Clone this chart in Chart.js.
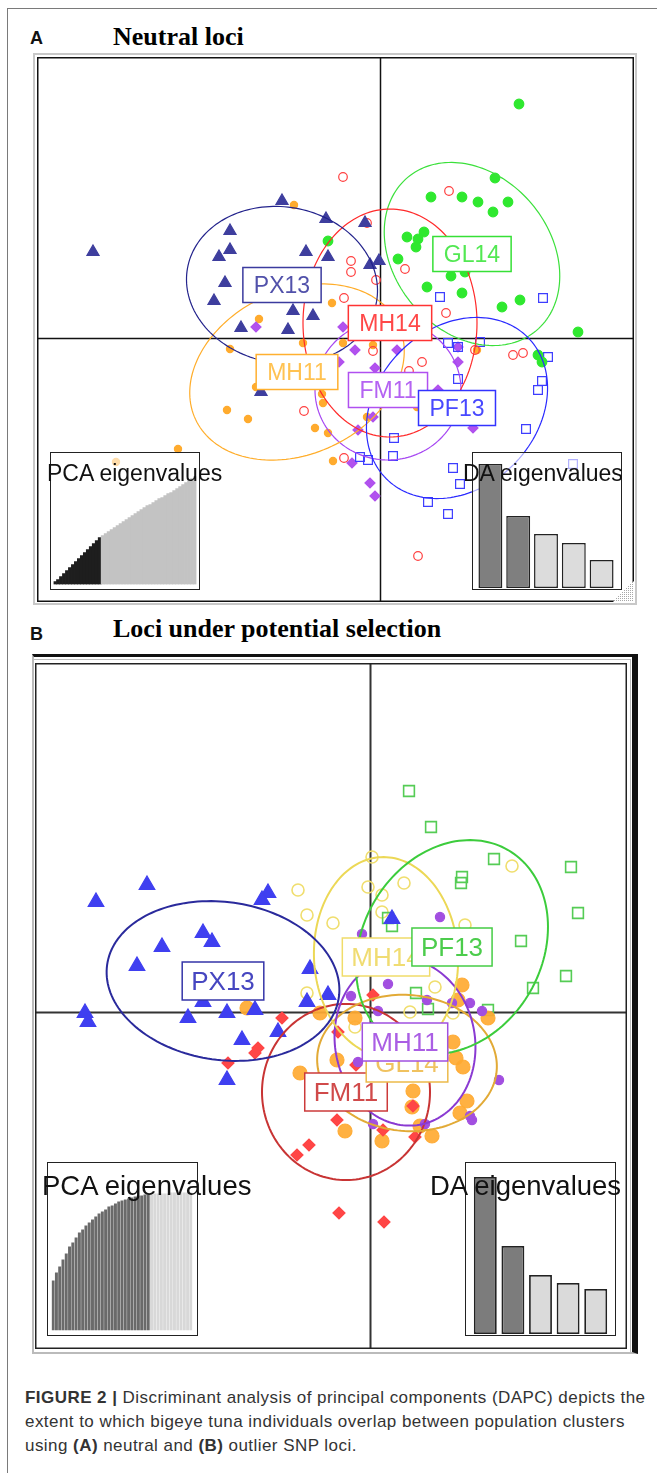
<!DOCTYPE html>
<html>
<head>
<meta charset="utf-8">
<script src="https://cdn.jsdelivr.net/npm/chart.js@4.4.1/dist/chart.umd.min.js"></script>
<style>
body{margin:0;background:#fff;width:657px;height:1473px;position:relative;overflow:hidden;font-family:"Liberation Sans",Arial,sans-serif;}
.abs{position:absolute;}
#frame{left:7px;top:8px;width:670px;height:1480px;border-left:1px solid #7a7a7a;border-top:1px solid #7a7a7a;}
.letter{font-weight:bold;font-size:18px;line-height:1;color:#111;}
.title{font-family:"Liberation Serif","Times New Roman",serif;font-weight:bold;font-size:26px;line-height:1;color:#000;white-space:nowrap;}
.inset{border:1.5px solid #222;background:rgba(255,255,255,0.6);box-sizing:border-box;}
.inset canvas{position:absolute;left:0;top:0;}
.itxt{white-space:nowrap;color:#111;line-height:1;}
#caption{left:25px;top:1386px;font-size:17px;letter-spacing:0.45px;line-height:24px;color:#333;white-space:nowrap;}
</style>
</head>
<body>
<div id="frame" class="abs"></div>

<div class="abs letter" style="left:30px;top:29px;">A</div>
<div class="abs title" style="left:113px;top:24px;">Neutral loci</div>
<div class="abs" style="left:33px;top:53px;width:604px;height:552px;border:2px solid #c8c8c8;box-sizing:border-box;"></div>
<canvas id="dapcA" class="abs" style="left:37px;top:57px;" width="597" height="545"></canvas>
<div class="abs inset" style="left:50px;top:452px;width:150px;height:138px;"><canvas id="pcaA" width="147" height="135"></canvas></div>
<div class="abs inset" style="left:472px;top:452px;width:150px;height:138px;"><canvas id="daA" width="147" height="135"></canvas></div>
<div class="abs itxt" style="left:47px;top:462px;font-size:23px;">PCA eigenvalues</div>
<div class="abs itxt" style="left:463px;top:462px;font-size:23px;">DA eigenvalues</div>

<div class="abs letter" style="left:30px;top:625px;">B</div>
<div class="abs title" style="left:113px;top:616px;">Loci under potential selection</div>
<div class="abs" style="left:32px;top:654px;width:606px;height:700px;border-top:3px solid #111;border-right:6px solid #111;border-left:2px solid #bbb;border-bottom:2px solid #bbb;box-sizing:border-box;"></div>
<div class="abs" style="left:33px;top:659px;width:598px;height:694px;border:1.5px solid #bbb;box-sizing:border-box;"></div>
<canvas id="dapcB" class="abs" style="left:35px;top:663px;" width="592" height="686"></canvas>
<div class="abs inset" style="left:47px;top:1162px;width:151px;height:174px;"><canvas id="pcaB" width="148" height="171"></canvas></div>
<div class="abs inset" style="left:465px;top:1162px;width:151px;height:174px;"><canvas id="daB" width="148" height="171"></canvas></div>
<div class="abs itxt" style="left:42px;top:1172px;font-size:27.5px;">PCA eigenvalues</div>
<div class="abs itxt" style="left:430px;top:1172px;font-size:27.5px;">DA eigenvalues</div>

<div id="caption" class="abs"><b>FIGURE 2 |</b> Discriminant analysis of principal components (DAPC) depicts the<br>extent to which bigeye tuna individuals overlap between population clusters<br>using <b>(A)</b> neutral and <b>(B)</b> outlier SNP loci.</div>

<script>
// ---------- panel A : neutral loci (discriminant scores, LD1 / LD2) ----------
const groupsA = ['FM11', 'GL14', 'MH11', 'MH14', 'PF13', 'PX13'];

const px13A = [[-28.7,8.6],[-9.8,13.7],[-5.4,11.9],[-15.0,10.7],[-15.0,8.8],[-16.1,8.1],[-7.4,8.6],[-5.2,8.1],
  [-1.5,11.5],[-1.0,7.3],[-0.1,7.7],[-15.5,5.5],[-16.6,3.7],[-8.7,2.7],[-6.7,2.2],[-13.9,1.0],[-9.2,0.8],[-11.9,-5.4]];
const mh14A = [[-3.7,16.1],[6.9,14.7],[-1.3,11.5],[-2.9,7.7],[-2.9,6.6],[-0.4,5.8],[2.5,6.9],[-3.6,4.0],[6.6,2.5],
  [-0.7,-1.3],[4.2,-2.4],[2.9,-3.3],[9.5,-1.2],[13.3,-1.7],[14.3,-1.5],[-7.6,-7.3],[-3.6,-12.0],[3.8,-21.8]];
const gl14A = [[13.9,23.4],[11.5,16.0],[5.1,14.1],[8.2,14.1],[9.8,13.6],[12.8,13.6],[11.3,12.6],[2.7,10.1],[4.4,10.6],
  [3.8,9.9],[3.6,9.1],[1.8,7.9],[7.1,6.2],[8.5,6.6],[4.7,5.1],[8.2,4.5],[12.2,3.1],[14.0,3.8],[-5.2,9.7],[19.8,0.6],
  [15.8,-1.7],[16.2,-2.4]];
const pf13A = [[6.0,4.1],[16.3,4.0],[6.8,-0.5],[7.8,-0.9],[10.0,-0.4],[16.8,-1.9],[16.2,-4.3],[15.8,-5.2],[7.8,-4.1],
  [14.6,-9.1],[1.4,-10.0],[1.3,-11.8],[-2.0,-11.9],[-1.2,-12.2],[7.3,-13.0],[8.0,-14.6],[4.8,-16.4],[6.8,-17.6],[19.3,-12.6]];
const fm11A = [[-12.4,1.1],[-3.7,1.1],[-2.5,-1.2],[-4.1,-2.4],[1.7,-1.2],[7.8,-0.9],[7.8,-2.4],[-0.5,-3.0],[5.8,-5.2],
  [-0.7,-7.9],[-2.2,-9.2],[9.3,-9.0],[-2.8,-12.5],[-1.0,-14.5],[-0.5,-15.8]];
const mh11A = [[-8.6,13.3],[-4.8,3.5],[-12.1,1.9],[-7.7,-0.5],[-3.7,-0.5],[-0.7,-0.7],[-15.0,-1.1],[-12.4,-4.9],
  [-5.8,-5.6],[-5.7,-6.5],[-15.3,-7.2],[-13.2,-8.1],[-6.5,-9.0],[-5.2,-9.5],[-4.7,-12.3],[-20.2,-11.1],[-26.4,-12.4],
  [-1.3,-7.9],[3.7,-6.9],[9.7,-1.2]];

// inertia ellipses, in group order: centre, then [axis1, axis2, rotation deg]
const centersA = [[0.8,-5.2],[9.2,8.4],[-8.3,-3.4],[1.0,1.5],[7.7,-7.0],[-9.8,5.3]];
const axesA = [[7.3,7.0,0],[10.0,7.8,-50],[11.2,8.2,25],[8.7,11.4,0],[10.0,8.0,45],[9.6,7.8,-10]];

const pcaA = [3,5,8,11,14,17,20,23,26,29,32,35,38,41,44,47,49,51,53,55,57,59,61,63,65,67,69,71,73,75,77,79,80,82,84,
  86,87,89,91,92,94,96,98,100,102,104,106,108];
const pcaRetainedA = 16;
const daA = [124,72,54,45,28];
const daRetainedA = 2;

// ---------- panel B : loci under potential selection ----------
const groupsB = ['FM11', 'GL14', 'MH11', 'MH14', 'PF13', 'PX13'];

const px13B = [[-27.4,11.0],[-22.3,12.7],[-10.2,11.9],[-10.8,11.2],[-16.7,7.9],[-15.8,7.0],[-20.8,6.5],[-23.3,4.6],
  [-6.0,4.3],[-28.5,-0.1],[-28.2,-1.0],[-18.2,-0.6],[-14.3,-0.1],[-16.7,1.0],[-12.8,-2.8],[-9.2,-2.0],[-14.3,-6.8],
  [-11.5,0.2],[-6.3,1.0],[-4.2,1.7],[2.2,9.3]];
const mh14B = [[-7.2,12.2],[-6.3,9.7],[-3.7,8.9],[-6.3,1.9],[0.2,15.5],[-0.2,12.5],[1.2,11.7],[3.4,12.9],[1.2,10.0],
  [14.2,14.6],[9.5,8.7],[6.5,2.5],[-1.5,-1.5],[4.0,0.0],[8.3,-0.1]];
const pf13B = [[3.9,22.1],[6.1,18.5],[12.4,15.3],[9.2,13.5],[9.1,12.9],[20.1,14.5],[20.8,9.9],[15.1,7.1],[19.6,3.6],
  [16.3,2.4],[1.8,9.4],[2.2,8.6],[4.6,1.9],[5.8,0.3],[11.8,0.2]];
const mh11B = [[7.0,9.5],[-0.8,7.8],[1.8,2.8],[-1.9,1.6],[0.8,0.1],[5.7,1.2],[8.2,0.9],[10.0,0.9],[11.2,0.1],[-1.2,-5.0],
  [12.9,-6.8],[10.2,-10.8],[10.0,-10.4],[5.5,-11.2],[0.3,-11.2]];
const gl14B = [[-12.3,0.4],[-5.0,-0.1],[-1.5,-0.6],[9.2,2.7],[8.8,1.2],[11.8,-0.6],[8.3,-3.0],[8.6,-4.6],[9.3,-5.5],
  [-3.3,-4.8],[-7.0,-6.1],[4.3,-7.9],[4.2,-9.5],[9.7,-8.9],[9.0,-10.1],[-2.5,-11.9],[5.0,-11.4],[1.2,-12.9],[6.2,-12.4]];
const fm11B = [[-8.8,-0.6],[-11.2,-3.6],[-11.5,-4.1],[-14.2,-5.1],[0.3,1.7],[-3.2,-2.0],[-1.4,-5.3],[-3.3,-10.8],
  [1.3,-11.8],[4.3,-9.4],[4.5,-12.5],[-6.1,-13.3],[-7.3,-14.3],[-3.1,-20.1],[1.4,-21.0]];

const centersB = [[-2.4,-8.0],[3.7,-5.1],[3.5,-3.0],[1.6,5.5],[8.2,6.5],[-14.7,3.1]];
const axesB = [[8.4,8.8,0],[9.0,6.8,-5],[7.0,8.4,10],[7.2,10.0,3],[9.0,11.2,-30],[11.7,7.9,-8]];

const pcaB = [50,58,64,71,77,84,88,93,98,101,105,108,111,114,117,119,121,124,125,127,129,130,131,132,133,134,135,135,
  136,136,136,137,137,137,137,137,138,138,138,138,138,138,138];
const pcaRetainedB = 30;
const daB = [157,88,59,51,45];
const daRetainedB = 2;

// draws axes, ellipses, group labels and the box on top of the scatter
function makeDecor(cfg) {
  return {
    id: 'dapcDecor',
    beforeDatasetsDraw(chart) {
      const { ctx, chartArea: a, scales: { x, y } } = chart;
      const x0 = Math.round(x.getPixelForValue(0)) + 0.5;
      const y0 = Math.round(y.getPixelForValue(0)) + 0.5;
      ctx.save();
      ctx.strokeStyle = cfg.axisColor;
      ctx.lineWidth = cfg.axisWidth;
      ctx.beginPath();
      ctx.moveTo(x0, a.top); ctx.lineTo(x0, a.bottom);
      ctx.moveTo(a.left, y0); ctx.lineTo(a.right, y0);
      ctx.stroke();
      ctx.restore();
    },
    afterDatasetsDraw(chart) {
      const { ctx, chartArea: a, scales: { x, y } } = chart;
      ctx.save();
      cfg.centers.forEach((c, i) => {
        const [r1, r2, ang] = cfg.axes[i];
        const phi = ang * Math.PI / 180;
        ctx.beginPath();
        for (let k = 0; k <= 160; k++) {
          const t = k / 160 * 2 * Math.PI;
          const dx = r1 * Math.cos(t), dy = r2 * Math.sin(t);
          const px = x.getPixelForValue(c[0] + dx * Math.cos(phi) - dy * Math.sin(phi));
          const py = y.getPixelForValue(c[1] + dx * Math.sin(phi) + dy * Math.cos(phi));
          if (k) ctx.lineTo(px, py); else ctx.moveTo(px, py);
        }
        ctx.closePath();
        ctx.strokeStyle = cfg.ellipseColors[i];
        ctx.lineWidth = cfg.ellipseWidth;
        ctx.stroke();
      });
      // labels
      ctx.font = cfg.fontSize + 'px "Liberation Sans", Arial, sans-serif';
      ctx.textAlign = 'center';
      ctx.textBaseline = 'alphabetic';
      cfg.groups.forEach((g, i) => {
        const cx = x.getPixelForValue(cfg.centers[i][0]);
        const cy = y.getPixelForValue(cfg.centers[i][1]);
        const w = ctx.measureText(g).width + 2 * cfg.padX;
        const h = cfg.boxH;
        ctx.fillStyle = '#fff';
        ctx.fillRect(cx - w / 2, cy - h / 2, w, h);
        ctx.strokeStyle = cfg.labelColors[i];
        ctx.lineWidth = 1.5;
        ctx.strokeRect(cx - w / 2, cy - h / 2, w, h);
        ctx.fillStyle = cfg.textColors[i];
        ctx.fillText(g, cx, cy + cfg.fontSize * 0.36);
      });
      ctx.strokeStyle = cfg.borderColor;
      ctx.lineWidth = 1.5;
      ctx.strokeRect(a.left + 0.75, a.top + 0.75, a.width - 1.5, a.height - 1.5);
      if (cfg.grip) {
        const R = a.right, B = a.bottom;
        ctx.fillStyle = '#fff';
        ctx.beginPath();
        ctx.moveTo(R, B - 21); ctx.lineTo(R, B); ctx.lineTo(R - 21, B); ctx.closePath();
        ctx.fill();
        ctx.fillStyle = '#a8a8a8';
        for (let i = 0; i < 22; i += 2) for (let j = 0; j < 22; j += 2) if (i + j >= 22) ctx.fillRect(R - 22 + i, B - 22 + j, 1, 1);
      }
      ctx.restore();
    }
  };
}

function pointSet(data, style) {
  return Object.assign({ data: data, pointBorderWidth: 1.2 }, style);
}

function scatterChart(id, datasets, xr, yr, cfg) {
  return new Chart(document.getElementById(id), {
    type: 'scatter',
    data: { datasets: datasets },
    options: {
      responsive: false,
      animation: false,
      events: [],
      layout: { padding: 0, autoPadding: false },
      scales: {
        x: { type: 'linear', min: xr[0], max: xr[1], display: false },
        y: { type: 'linear', min: yr[0], max: yr[1], display: false }
      },
      plugins: { legend: { display: false }, tooltip: { enabled: false } }
    },
    plugins: [makeDecor(cfg)]
  });
}

function eigenChart(id, values, retained, dark, light, pad, ymax, barPct, border) {
  return new Chart(document.getElementById(id), {
    type: 'bar',
    data: {
      labels: values.map((v, i) => i + 1),
      datasets: [{
        data: values,
        backgroundColor: values.map((v, i) => i < retained ? dark : light),
        borderColor: '#222',
        borderWidth: border,
        borderSkipped: false,
        barPercentage: barPct,
        categoryPercentage: 1
      }]
    },
    options: {
      responsive: false,
      animation: false,
      events: [],
      layout: { padding: pad, autoPadding: false },
      scales: {
        x: { display: false },
        y: { display: false, min: 0, max: ymax }
      },
      plugins: { legend: { display: false }, tooltip: { enabled: false } }
    }
  });
}

// ---- panel A
scatterChart('dapcA', [
  pointSet(px13A, { pointStyle: 'triangle', pointRadius: 7, pointBackgroundColor: '#3e3e9e', pointBorderColor: '#3e3e9e' }),
  pointSet(mh14A, { pointStyle: 'circle', pointRadius: 4.3, pointBackgroundColor: 'rgba(0,0,0,0)', pointBorderColor: '#ff4040' }),
  pointSet(gl14A, { pointStyle: 'circle', pointRadius: 4.8, pointBackgroundColor: '#2fe82f', pointBorderColor: '#2fe82f' }),
  pointSet(pf13A, { pointStyle: 'rect', pointRadius: 6.2, pointBackgroundColor: 'rgba(0,0,0,0)', pointBorderColor: '#3d3dff' }),
  pointSet(fm11A, { pointStyle: 'rectRot', pointRadius: 5, pointBackgroundColor: '#b152ee', pointBorderColor: '#b152ee' }),
  pointSet(mh11A, { pointStyle: 'circle', pointRadius: 3.6, pointBackgroundColor: '#ffab2e', pointBorderColor: '#ffab2e' })
], [-34.3, 25.4], [-26.4, 28.1], {
  groups: groupsA, centers: centersA, axes: axesA,
  ellipseColors: ['#a646f2', '#3be03b', '#ffad2a', '#ff2a2a', '#2a2aff', '#23238c'],
  labelColors: ['#b050f0', '#36e036', '#ffb030', '#ff3333', '#3333ff', '#3b3b9e'],
  textColors: ['#b463f2', '#52e852', '#ffc252', '#ff4848', '#4848ff', '#5151aa'],
  fontSize: 23, padX: 11, boxH: 35, ellipseWidth: 1.2,
  axisColor: '#111', axisWidth: 1.5, borderColor: '#111', grip: true
});
eigenChart('pcaA', pcaA, pcaRetainedA, '#1e1e1e', '#c3c3c3', { left: 2.5, right: 1.5, top: 0, bottom: 3.5 }, 131.5, 1, 0);
eigenChart('daA', daA, daRetainedA, '#7f7f7f', '#dcdcdc', { left: 3.5, right: 4.5, top: 0, bottom: 0 }, 135, 0.86, 1.5);

// ---- panel B
scatterChart('dapcB', [
  pointSet(px13B, { pointStyle: 'triangle', pointRadius: 9, pointBackgroundColor: '#3f3ff0', pointBorderColor: '#3f3ff0' }),
  pointSet(mh11B, { pointStyle: 'circle', pointRadius: 4.6, pointBackgroundColor: '#a24fe0', pointBorderColor: '#a24fe0' }),
  pointSet(fm11B, { pointStyle: 'rectRot', pointRadius: 6, pointBackgroundColor: '#ff4646', pointBorderColor: '#ff4646' }),
  pointSet(gl14B, { pointStyle: 'circle', pointRadius: 7, pointBackgroundColor: 'rgba(255,170,50,0.92)', pointBorderColor: 'rgba(255,170,50,0.92)' }),
  pointSet(pf13B, { pointStyle: 'rect', pointRadius: 7.6, pointBackgroundColor: 'rgba(0,0,0,0)', pointBorderColor: '#55cc55', pointBorderWidth: 1.6 }),
  pointSet(mh14B, { pointStyle: 'circle', pointRadius: 6, pointBackgroundColor: 'rgba(0,0,0,0)', pointBorderColor: '#f0de6e', pointBorderWidth: 1.6 })
], [-33.5, 25.7], [-33.7, 34.9], {
  groups: groupsB, centers: centersB, axes: axesB,
  ellipseColors: ['#c83434', '#e2aa36', '#8a3ad2', '#ecd856', '#3ccc3c', '#2a2a9c'],
  labelColors: ['#cc3a3a', '#ecba4a', '#a050e0', '#f0dc6a', '#44cc44', '#3535a8'],
  textColors: ['#d04a4a', '#f0c260', '#aa5ee4', '#f0dc72', '#4ccc4c', '#4646c0'],
  fontSize: 26, padX: 9, boxH: 38, ellipseWidth: 2,
  axisColor: '#333', axisWidth: 2, borderColor: '#222', grip: false
});
eigenChart('pcaB', pcaB, pcaRetainedB, '#6a6a6a', '#d8d8d8', { left: 3.5, right: 3.5, top: 0, bottom: 3.5 }, 167.5, 0.9, 0);
eigenChart('daB', daB, daRetainedB, '#7c7c7c', '#dadada', { left: 5.5, right: 4.5, top: 0, bottom: 0 }, 171, 0.83, 1.8);
</script>
</body>
</html>
